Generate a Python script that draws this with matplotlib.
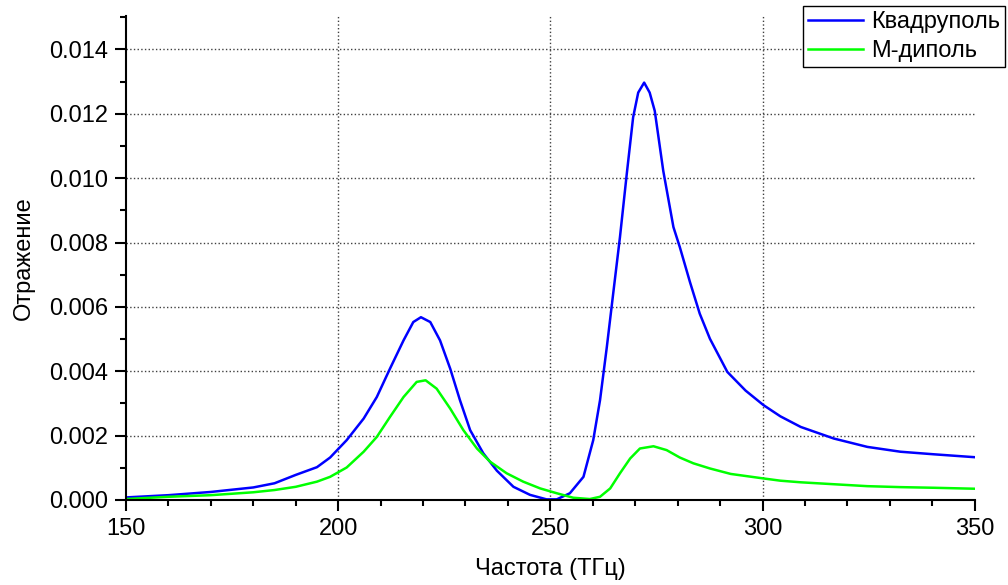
import matplotlib
matplotlib.use("Agg")
import matplotlib.pyplot as plt
from matplotlib.ticker import MultipleLocator, FormatStrFormatter

## DATA (reflection in units of 1e-3)
freq_quad = [150, 160, 170, 180, 185, 190, 195, 198.1, 202.0, 206.0, 209.1, 212.2, 215.4,
             217.7, 219.5, 221.7, 224.0, 226.4, 228.7, 231.1, 234.2, 237.4, 241.3, 245.2,
             249.1, 251.5, 254.6, 257.8, 260.1, 261.7, 263.3, 264.8, 266.4, 268.0, 269.5,
             270.7, 272.1, 273.4, 274.6, 276.6, 279.0, 280.5, 282.9, 285.2, 287.6, 291.7,
             296, 300.2, 304.2, 309, 316.8, 324.7, 332.5, 340.4, 350]
refl_quad = [0.08, 0.15, 0.25, 0.39, 0.52, 0.78, 1.02, 1.32, 1.86, 2.53, 3.2, 4.08, 4.96,
             5.53, 5.68, 5.53, 4.96, 4.08, 3.1, 2.17, 1.45, 0.91, 0.41, 0.16,
             0.02, 0.02, 0.21, 0.72, 1.86, 3.1, 4.75, 6.41, 8.17, 10.13, 11.89,
             12.66, 12.97, 12.66, 12.09, 10.23, 8.48, 7.86, 6.77, 5.79, 5.01, 3.98,
             3.4, 2.95, 2.6, 2.27, 1.91, 1.65, 1.5, 1.42, 1.33]

freq_mdip = [150, 160, 170, 180, 185, 190, 195, 198.1, 202.0, 206.0, 209.1, 212.2, 215.4,
             218.5, 220.6, 223.2, 226.4, 229.5, 232.7, 235.8, 239.7, 243.6, 247.6, 251.5,
             255.4, 259.3, 261.7, 264.1, 266.4, 268.8, 271.1, 274.3, 277.4, 280.5, 283.7,
             287.6, 292.5, 300.2, 304.2, 309, 316.8, 324.7, 332.5, 340.4, 350]
refl_mdip = [0.03, 0.1, 0.15, 0.24, 0.31, 0.41, 0.57, 0.72, 1.01, 1.5, 1.96, 2.58, 3.2,
             3.67, 3.72, 3.46, 2.84, 2.17, 1.6, 1.19, 0.83, 0.57, 0.36, 0.21,
             0.07, 0.03, 0.1, 0.36, 0.83, 1.29, 1.6, 1.67, 1.55, 1.32, 1.14,
             0.98, 0.81, 0.67, 0.6, 0.55, 0.49, 0.43, 0.40, 0.38, 0.35]

labels = ["Квадруполь", "М-диполь"]

## SETTINGS
plt.rcParams['font.family'] = ['Liberation Sans', 'DejaVu Sans']
fs = 17

fig = plt.figure(figsize=(10.08, 5.85), dpi=100)
ax = fig.add_axes([0.125, 0.1453, 0.842, 0.8279])

ax.plot(freq_quad, [v * 1e-3 for v in refl_quad], color='#0000ff', lw=1.8,
        solid_joinstyle='round', label=labels[0])
ax.plot(freq_mdip, [v * 1e-3 for v in refl_mdip], color='#00ff00', lw=1.8,
        solid_joinstyle='round', label=labels[1])

ax.set_xlim(150, 350)
ax.set_ylim(0, 0.01505)

ax.xaxis.set_major_locator(MultipleLocator(50))
ax.xaxis.set_minor_locator(MultipleLocator(10))
ax.yaxis.set_major_locator(MultipleLocator(0.002))
ax.yaxis.set_minor_locator(MultipleLocator(0.001))
ax.yaxis.set_major_formatter(FormatStrFormatter('%.3f'))

ax.spines['top'].set_visible(False)
ax.spines['right'].set_visible(False)
for s in ['left', 'bottom']:
    ax.spines[s].set_linewidth(1.5)

ax.tick_params(which='major', direction='out', length=8, width=1.5, labelsize=fs, pad=5)
ax.tick_params(which='minor', direction='out', length=4.5, width=1.5)

ax.grid(True, which='major', linestyle=':', color='0.25', lw=1.0)
# no grid line on the axis ends
for loc, tick in zip(ax.get_xticks(), ax.xaxis.get_major_ticks()):
    if loc <= 150 or loc >= 350:
        tick.gridline.set_visible(False)

ax.set_xlabel("Частота (ТГц)", fontsize=fs, labelpad=13)
ax.set_ylabel("Отражение", fontsize=fs, labelpad=10)

leg = ax.legend(loc='upper right', bbox_to_anchor=(1005 / 1008, 1 - 6 / 585),
                bbox_transform=fig.transFigure, fontsize=fs, fancybox=False,
                edgecolor='black', framealpha=1, borderaxespad=0, borderpad=0.22,
                handlelength=2.3, handletextpad=0.35, labelspacing=0.3)
leg.get_frame().set_linewidth(1.0)

fig.savefig("out.png", dpi=100)
